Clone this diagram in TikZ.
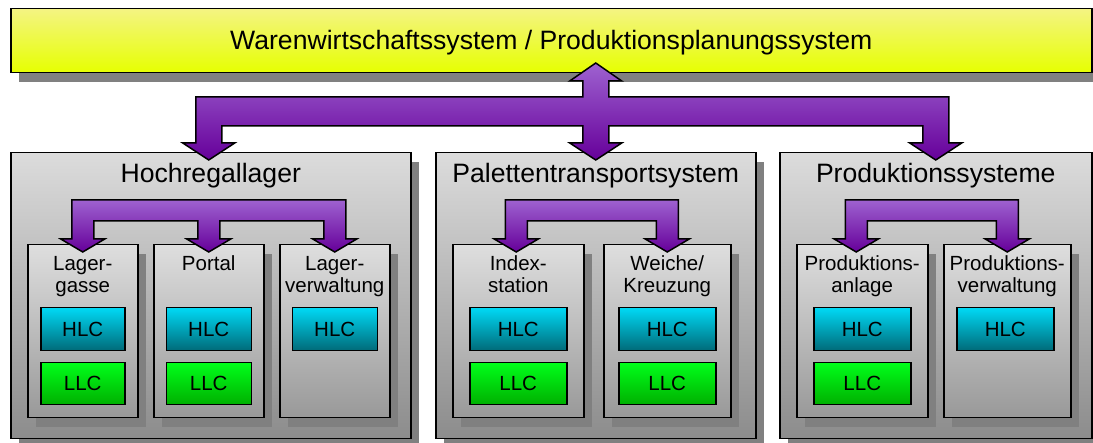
\documentclass[tikz,border=0pt]{standalone}
\usepackage{fontspec}
\setmainfont{Liberation Sans}
\usetikzlibrary{calc}

% colour palette
\definecolor{yellowtop}{HTML}{F4F483}
\definecolor{yellowbot}{HTML}{E6FF00}
\definecolor{grouptop}{HTML}{DCDCDC}
\definecolor{groupbot}{HTML}{8C8C8C}
\definecolor{unittop}{HTML}{DEDEDE}
\definecolor{unitbot}{HTML}{999999}
\definecolor{shadowgray}{HTML}{808080}
\definecolor{hlctop}{HTML}{00D9F5}
\definecolor{hlcbot}{HTML}{006A78}
\definecolor{llctop}{HTML}{00FF1A}
\definecolor{llcbot}{HTML}{00B000}
\definecolor{purpletop}{HTML}{9E62D0}
\definecolor{purplebot}{HTML}{66009A}

\tikzset{
  boxline/.style={draw=black, line width=1.5pt},
  dropshadow/.style={preaction={fill=shadowgray, transform canvas={xshift=8pt, yshift=-9pt}}},
  topbox/.style={boxline, dropshadow, top color=yellowtop, bottom color=yellowbot,
    rectangle, inner sep=0pt, anchor=north west},
  groupbox/.style={boxline, dropshadow, top color=grouptop, bottom color=groupbot,
    rectangle, inner sep=0pt, anchor=north west},
  unitbox/.style={boxline, dropshadow, top color=unittop, bottom color=unitbot,
    rectangle, inner sep=0pt, anchor=north west, minimum height=173pt},
  ctrlbox/.style={boxline, rectangle, inner sep=0pt, anchor=north,
    font=\fontsize{20.5}{22}\selectfont},
  hlcbox/.style={ctrlbox, top color=hlctop, bottom color=hlcbot, minimum height=43pt},
  llcbox/.style={ctrlbox, top color=llctop, bottom color=llcbot, minimum height=42pt},
  titletext/.style={anchor=base, inner sep=0pt, font=\fontsize{26.6}{30}\selectfont},
  unittext/.style={anchor=north, inner sep=0pt, align=center,
    font=\fontsize{20.5}{22}\selectfont},
  busarrow/.style={draw=black, line width=1.5pt, line join=miter,
    top color=purpletop, bottom color=purplebot},
}

% block arrow with two heads hanging from a common bar
\newcommand{\twobus}[2]{%
  \draw[busarrow] let \p1=(#1), \p2=(#2) in
    (\x1-11pt,-239pt) -- (\x1-22pt,-239pt) -- (\x1,-252pt) -- (\x1+22pt,-239pt)
    -- (\x1+11pt,-239pt) -- (\x1+11pt,-221pt) -- (\x2-11pt,-221pt)
    -- (\x2-11pt,-239pt) -- (\x2-22pt,-239pt) -- (\x2,-252pt) -- (\x2+22pt,-239pt)
    -- (\x2+11pt,-239pt) -- (\x2+11pt,-200pt) -- (\x1-11pt,-200pt) -- cycle;}

\begin{document}
\begin{tikzpicture}[x=1pt, y=-1pt]
\useasboundingbox (0,0) rectangle (1093,443);

% top level system
\node[topbox, minimum width=1081pt, minimum height=64pt] (wws) at (10,8) {};
\node[titletext] (wwsT) at ([yshift=-42pt]wws.north)
  {Warenwirtschaftssystem / Produktionsplanungssystem};

% subsystem groups
\node[groupbox, minimum width=400pt, minimum height=286pt] (hr) at (10,152) {};
\node[groupbox, minimum width=320pt, minimum height=286pt] (pt) at (435,152) {};
\node[groupbox, minimum width=312pt, minimum height=286pt] (ps) at (779,152) {};
\node[titletext] (hrT) at ([yshift=-31pt]hr.north) {Hochregallager};
\node[titletext] (ptT) at ([yshift=-31pt]pt.north) {Palettentransportsystem};
\node[titletext] (psT) at ([yshift=-31pt]ps.north) {Produktionssysteme};

% units of the high-bay warehouse
\node[unitbox, minimum width=110pt] (lg) at (27,244) {};
\node[unitbox, minimum width=110pt] (po) at (153,244) {};
\node[unitbox, minimum width=110pt] (lv) at (279,244) {};
% units of the pallet transport system
\node[unitbox, minimum width=131pt] (ix) at (452,244) {};
\node[unitbox, minimum width=127pt] (wk) at (603,244) {};
% units of the production systems
\node[unitbox, minimum width=131pt] (pa) at (796,244) {};
\node[unitbox, minimum width=127pt] (pv) at (943,244) {};

% unit captions
\node[unittext] (lgT) at ([yshift=-10.6pt]lg.north) {\strut Lager-\\gasse};
\node[unittext] (poT) at ([yshift=-10.6pt]po.north) {\strut Portal};
\node[unittext] (lvT) at ([yshift=-10.6pt]lv.north) {\strut Lager-\\verwaltung};
\node[unittext] (ixT) at ([yshift=-10.6pt]ix.north) {\strut Index-\\station};
\node[unittext] (wkT) at ([yshift=-10.6pt]wk.north) {\strut Weiche/\\Kreuzung};
\node[unittext] (paT) at ([yshift=-10.6pt]pa.north) {\strut Produktions-\\anlage};
\node[unittext] (pvT) at ([yshift=-10.6pt]pv.north) {\strut Produktions-\\verwaltung};

% controllers
\node[hlcbox, minimum width=84pt] (lgH) at ([yshift=-63pt]lg.north) {HLC};
\node[llcbox, minimum width=84pt] (lgL) at ([yshift=-118pt]lg.north) {LLC};
\node[hlcbox, minimum width=85pt] (poH) at ([yshift=-63pt]po.north) {HLC};
\node[llcbox, minimum width=85pt] (poL) at ([yshift=-118pt]po.north) {LLC};
\node[hlcbox, minimum width=85pt] (lvH) at ([yshift=-63pt]lv.north) {HLC};
\node[hlcbox, minimum width=97pt] (ixH) at ([yshift=-63pt]ix.north) {HLC};
\node[llcbox, minimum width=97pt] (ixL) at ([yshift=-118pt]ix.north) {LLC};
\node[hlcbox, minimum width=97pt] (wkH) at ([yshift=-63pt]wk.north) {HLC};
\node[llcbox, minimum width=97pt] (wkL) at ([yshift=-118pt]wk.north) {LLC};
\node[hlcbox, minimum width=97pt] (paH) at ([yshift=-63pt]pa.north) {HLC};
\node[llcbox, minimum width=97pt] (paL) at ([yshift=-118pt]pa.north) {LLC};
\node[hlcbox, minimum width=97pt] (pvH) at ([xshift=-2pt,yshift=-63pt]pv.north) {HLC};

% main bus: top system <-> the three subsystem groups
\draw[busarrow] let \p1=([xshift=-2pt]hr.north), \p2=(pt.north), \p3=(ps.north) in
  (\x1-13pt,-143pt) -- (\x1-26pt,-143pt) -- (\x1,-160pt) -- (\x1+26pt,-143pt)
  -- (\x1+13pt,-143pt) -- (\x1+13pt,-126pt) -- (\x2-13pt,-126pt)
  -- (\x2-13pt,-143pt) -- (\x2-26pt,-143pt) -- (\x2,-160pt) -- (\x2+26pt,-143pt)
  -- (\x2+13pt,-143pt) -- (\x2+13pt,-126pt) -- (\x3-13pt,-126pt)
  -- (\x3-13pt,-143pt) -- (\x3-26pt,-143pt) -- (\x3,-160pt) -- (\x3+26pt,-143pt)
  -- (\x3+13pt,-143pt) -- (\x3+13pt,-97pt) -- (\x2+13pt,-97pt)
  -- (\x2+13pt,-81pt) -- (\x2+26pt,-81pt) -- (\x2,-63pt) -- (\x2-26pt,-81pt)
  -- (\x2-13pt,-81pt) -- (\x2-13pt,-97pt) -- (\x1-13pt,-97pt) -- cycle;

% warehouse bus with three heads
\draw[busarrow] let \p1=(lg.north), \p2=(po.north), \p3=(lv.north) in
  (\x1-11pt,-239pt) -- (\x1-22pt,-239pt) -- (\x1,-252pt) -- (\x1+22pt,-239pt)
  -- (\x1+11pt,-239pt) -- (\x1+11pt,-221pt) -- (\x2-11pt,-221pt)
  -- (\x2-11pt,-239pt) -- (\x2-22pt,-239pt) -- (\x2,-252pt) -- (\x2+22pt,-239pt)
  -- (\x2+11pt,-239pt) -- (\x2+11pt,-221pt) -- (\x3-11pt,-221pt)
  -- (\x3-11pt,-239pt) -- (\x3-22pt,-239pt) -- (\x3,-252pt) -- (\x3+22pt,-239pt)
  -- (\x3+11pt,-239pt) -- (\x3+11pt,-200pt) -- (\x1-11pt,-200pt) -- cycle;

% buses with two heads
\twobus{[xshift=-2pt]ix.north}{wk.north}
\twobus{[xshift=-6pt]pa.north}{pv.north}

\end{tikzpicture}
\end{document}
